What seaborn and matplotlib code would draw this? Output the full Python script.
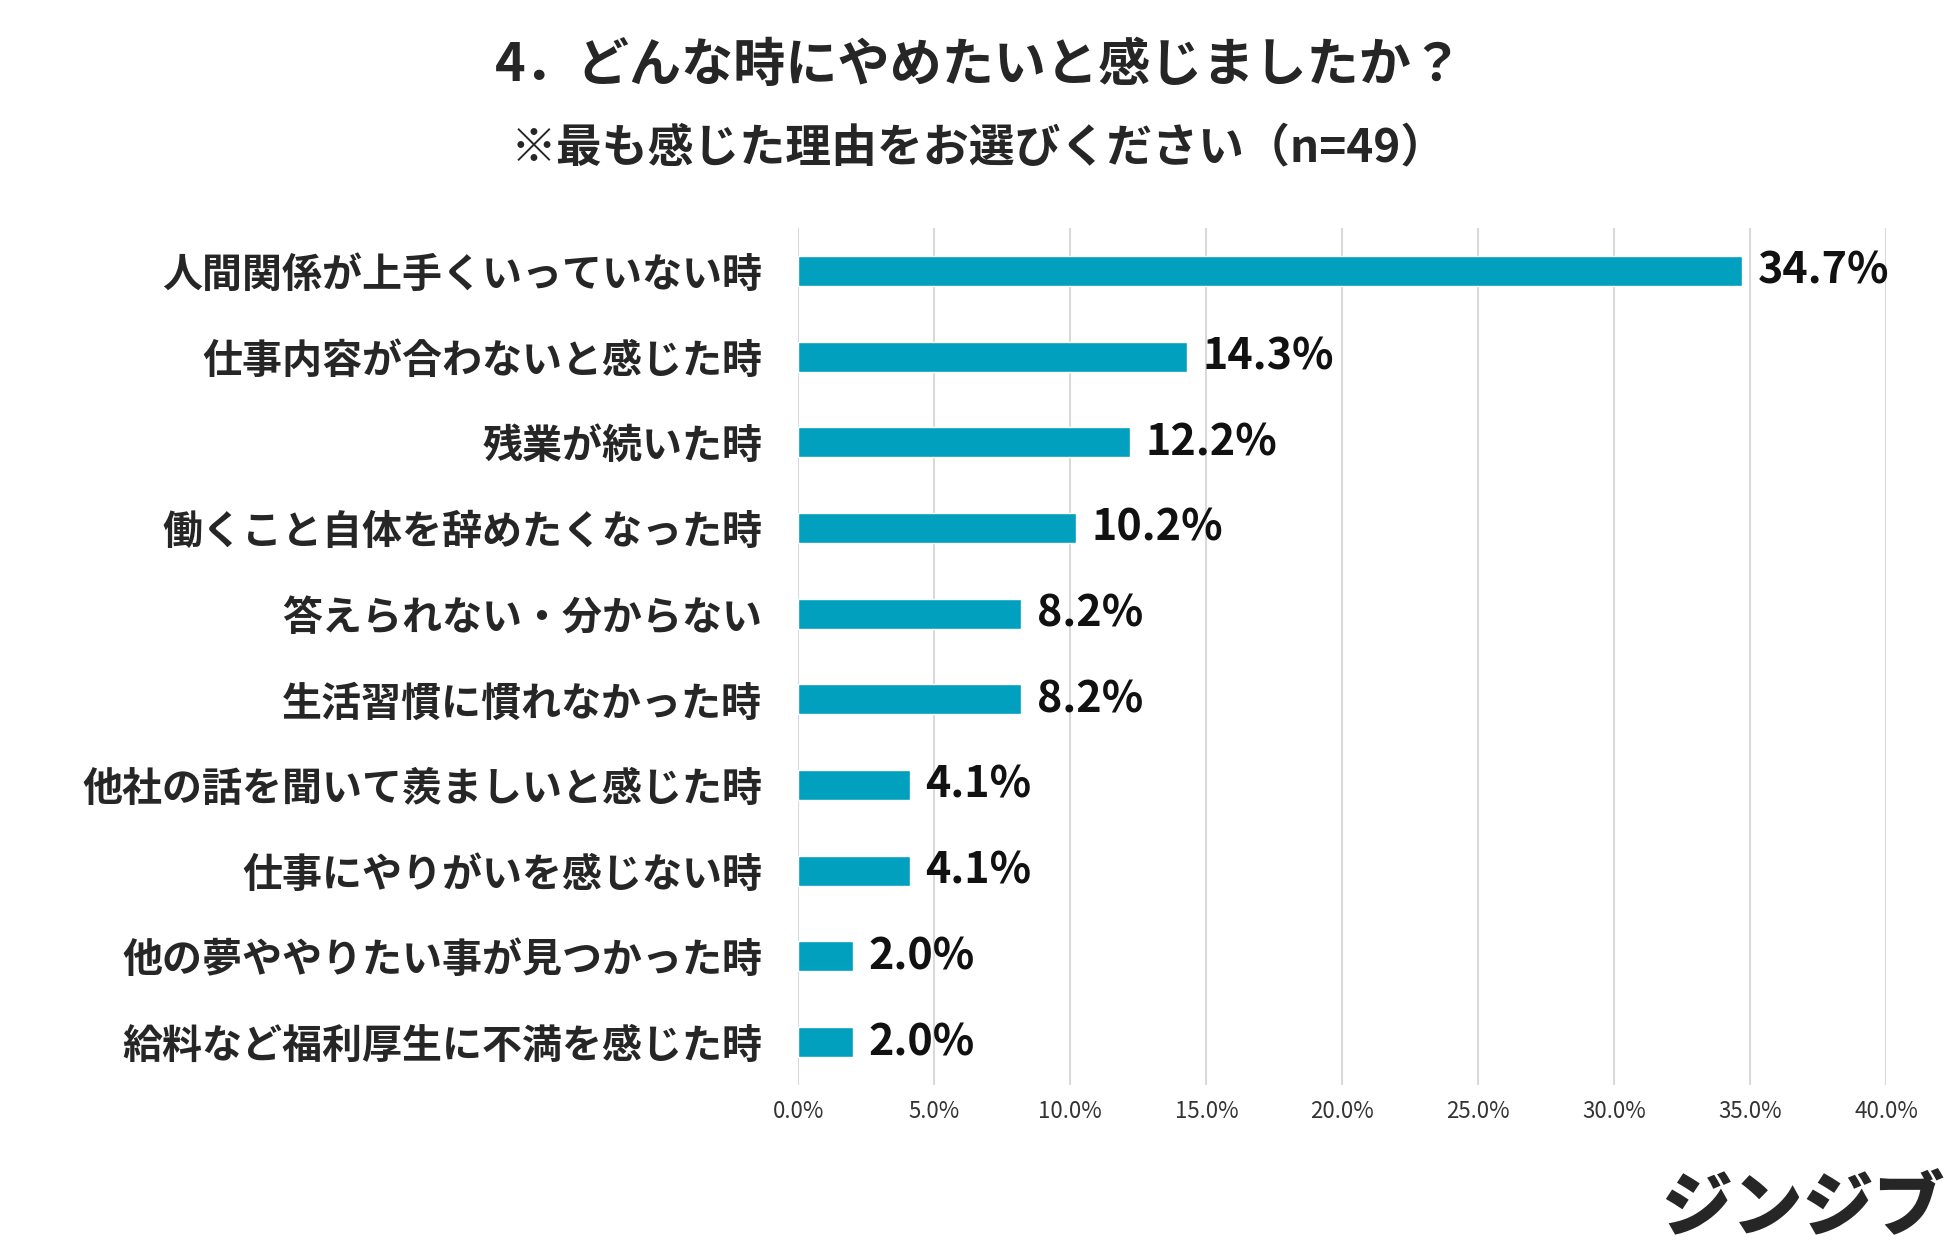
import matplotlib
matplotlib.use("Agg")
import matplotlib.pyplot as plt
import seaborn as sns
import pandas as pd
from matplotlib.ticker import PercentFormatter

sns.set_theme(style="white")
plt.rcParams["font.family"] = ["Noto Sans CJK JP", "DejaVu Sans"]

# data
reasons = [
    "人間関係が上手くいっていない時",
    "仕事内容が合わないと感じた時",
    "残業が続いた時",
    "働くこと自体を辞めたくなった時",
    "答えられない・分からない",
    "生活習慣に慣れなかった時",
    "他社の話を聞いて羨ましいと感じた時",
    "仕事にやりがいを感じない時",
    "他の夢ややりたい事が見つかった時",
    "給料など福利厚生に不満を感じた時",
]
shares = [34.7, 14.3, 12.2, 10.2, 8.2, 8.2, 4.1, 4.1, 2.0, 2.0]
x_ticks = [0, 5, 10, 15, 20, 25, 30, 35, 40]

title = "4．どんな時にやめたいと感じましたか？"
subtitle = "※最も感じた理由をお選びください（n=49）"
logo = "ジンジブ"

BAR = "#00A0BE"

df = pd.DataFrame({"reason": reasons, "share": shares})

fig = plt.figure(figsize=(19.5, 12.6), dpi=100)
ax = fig.add_axes([0.4094, 0.139, 0.558, 0.680])

sns.barplot(data=df, x="share", y="reason", orient="h", color=BAR,
            width=0.35, saturation=1, ax=ax, zorder=3)

ax.set_xlim(0, 40)
ax.set_ylim(len(reasons) - 0.5, -0.5)
ax.set_xticks(x_ticks)
ax.xaxis.set_major_formatter(PercentFormatter(decimals=1))
ax.grid(axis="x", color="#d9d9d9", linewidth=1.5, zorder=0)
ax.grid(axis="y", visible=False)
for s in ax.spines.values():
    s.set_visible(False)
ax.set_xlabel(""); ax.set_ylabel("")
ax.tick_params(axis="x", length=0, pad=11, labelsize=16, labelcolor="#333333")
ax.tick_params(axis="y", length=0, pad=26, labelsize=28.8)
for lab in ax.get_yticklabels():
    lab.set_fontweight("bold")

for i, v in enumerate(shares):
    ax.annotate(f"{v:.1f}%", xy=(v, i), xytext=(11, 0), textcoords="offset points",
                ha="left", va="center", fontsize=31, fontweight="bold",
                color="#111111")

fig.text(0.502, 0.948, title, ha="center", va="center", fontsize=37.5,
         fontweight="bold")
fig.text(0.502, 0.882, subtitle, ha="center", va="center", fontsize=33,
         fontweight="bold")
fig.text(0.997, 0.040, logo, ha="right", va="center", fontsize=51,
         fontweight="black", style="italic")

fig.savefig("out.png", dpi=100, facecolor="white")
